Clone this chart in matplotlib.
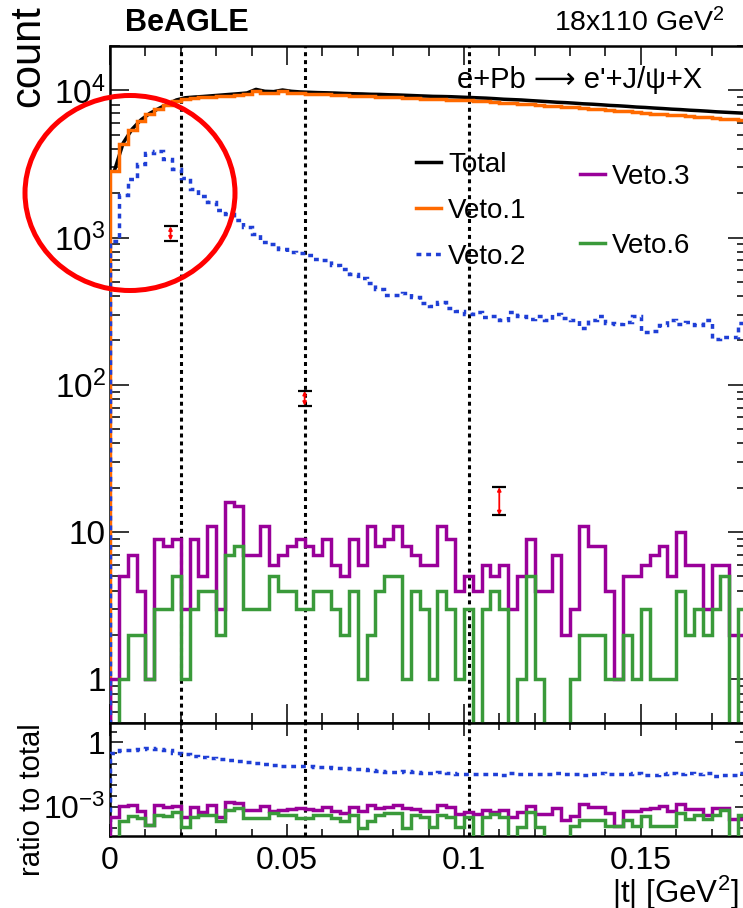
import numpy as np
import matplotlib
matplotlib.use("Agg")
import matplotlib.pyplot as plt
from matplotlib.patches import Ellipse
from matplotlib.ticker import FixedLocator, FixedFormatter, NullFormatter, MultipleLocator

plt.rcParams["font.family"] = ["Liberation Sans", "DejaVu Sans"]
plt.rcParams["mathtext.fontset"] = "custom"
plt.rcParams["mathtext.rm"] = "Liberation Sans"
plt.rcParams["mathtext.it"] = "Liberation Sans:italic"
plt.rcParams["mathtext.bf"] = "Liberation Sans:bold"

# |t| histogram, 72 bins of 0.0025 GeV^2 between 0 and 0.18
t_min, t_max = 0.0, 0.18

total = [2850, 4400, 5450, 6300, 6980, 7520, 8050, 8600, 8900, 9000,
         9080, 9180, 9280, 9380, 9480, 9600, 10150, 9850, 9800, 10050,
         9850, 9750, 9700, 9650, 9620, 9580, 9520, 9480, 9450, 9400,
         9380, 9330, 9300, 9250, 9200, 9150, 9100, 9080, 9050, 9000,
         8950, 8900, 8850, 8780, 8700, 8650, 8600, 8520, 8450, 8380,
         8300, 8250, 8180, 8100, 8050, 7980, 7900, 7850, 7780, 7700,
         7650, 7580, 7520, 7450, 7400, 7330, 7280, 7220, 7150, 7100,
         7050, 7000]

veto1 = [2820, 4350, 5380, 6220, 6900, 7430, 7940, 8500, 8780, 8870,
         8940, 9030, 9120, 9210, 9300, 9420, 9960, 9660, 9600, 9840,
         9640, 9530, 9470, 9410, 9370, 9320, 9250, 9200, 9160, 9100,
         9070, 9010, 8970, 8910, 8850, 8790, 8730, 8700, 8660, 8600,
         8540, 8480, 8420, 8340, 8250, 8190, 8130, 8040, 7960, 7880,
         7790, 7730, 7650, 7560, 7500, 7420, 7330, 7270, 7190, 7100,
         7040, 6960, 6890, 6810, 6750, 6670, 6610, 6540, 6460, 6400,
         6350, 6290]

veto2 = [955, 1950, 2500, 3150, 3750, 3900, 3400, 2900, 2520, 2150,
         1920, 1740, 1530, 1450, 1320, 1180, 1060, 940, 900, 830,
         800, 790, 760, 720, 700, 650, 610, 570, 530, 490,
         450, 407, 407, 418, 397, 361, 343, 364, 334, 318,
         302, 311, 290, 294, 276, 311, 294, 282, 294, 274,
         302, 285, 277, 243, 274, 294, 261, 257, 265, 294,
         230, 232, 255, 277, 258, 265, 255, 274, 205, 210,
         210, 263]

veto3 = [1, 5, 7, 4, 1, 9, 8, 9, 3, 9,
         5, 11, 3, 16, 15, 7, 7, 11, 6, 7,
         8, 9, 8, 7, 9, 6, 5, 9, 6, 11,
         8, 9, 11, 8, 7, 6, 6, 11, 9, 4,
         5, 4, 6, 5, 6, 3, 5, 9, 4, 4,
         7, 2, 3, 11, 8, 8, 4, 1, 5, 5,
         6, 7, 8, 5, 10, 6, 6, 3, 6, 6,
         2, 2]

veto6 = [0, 1, 2, 2, 1, 3, 3, 5, 1, 3,
         4, 4, 2, 7, 8, 3, 3, 3, 5, 4,
         4, 3, 3, 4, 4, 3, 2, 4, 1, 2,
         4, 5, 5, 1, 4, 3, 1, 4, 3, 1,
         3, 0, 3, 4, 3, 0, 1, 5, 1, 0,
         0, 0, 1, 2, 2, 2, 1, 1, 2, 1,
         3, 1, 1, 1, 4, 2, 3, 2, 3, 5,
         0, 3]

# single points with error bars
pts_t = [0.0171, 0.055, 0.11]
pts_lo = [955, 72, 13]
pts_hi = [1193, 91, 20.2]

# dotted reference lines
vline_t = [0.02, 0.055, 0.1015]

c_orange = "#ff6a00"
c_blue = "#1f3fd6"
c_purple = "#990099"
c_green = "#3a9a3a"

W, H = 743, 908


def fx(px):
    return px / W


def fy(py):
    return 1 - py / H


fig = plt.figure(figsize=(W / 100, H / 100), dpi=100)
ax = fig.add_axes([fx(110), fy(723), fx(747) - fx(110), fy(46) - fy(723)])
axr = fig.add_axes([fx(110), fy(836), fx(747) - fx(110), fy(723) - fy(836)])

edges = np.linspace(t_min, t_max, len(total) + 1)
centers = 0.5 * (edges[:-1] + edges[1:])
lw = 2.5

# main panel
h_tot, = ax.plot(centers, total, color="black", lw=lw, label="Total", zorder=2)
h_v1 = ax.stairs(veto1, edges, baseline=0, color=c_orange, lw=lw, label="Veto.1", zorder=3)
h_v2 = ax.stairs(veto2, edges, baseline=0, color=c_blue, lw=lw, ls=(0, (1.4, 1.4)),
                 label="Veto.2", zorder=4)
h_v3 = ax.stairs(veto3, edges, baseline=0, color=c_purple, lw=lw, label="Veto.3", zorder=3)
h_v6 = ax.stairs(veto6, edges, baseline=0, color=c_green, lw=lw, label="Veto.6", zorder=3)

for t, lo, hi in zip(pts_t, pts_lo, pts_hi):
    ax.annotate("", xy=(t, hi), xytext=(t, lo),
                arrowprops=dict(arrowstyle="<|-|>", color="red", lw=1.3,
                                mutation_scale=5, shrinkA=0, shrinkB=0), zorder=5)
ax.plot(pts_t, pts_lo, ls="none", marker="_", ms=10, mew=1.6, color="black", zorder=6)
ax.plot(pts_t, pts_hi, ls="none", marker="_", ms=10, mew=1.6, color="black", zorder=6)

# ratio panel
tot = np.array(total, dtype=float)
axr.stairs(np.array(veto2) / tot, edges, baseline=0, color=c_blue, lw=lw,
           ls=(0, (1.4, 1.4)), zorder=3)
axr.stairs(np.array(veto3) / tot, edges, baseline=0, color=c_purple, lw=lw, zorder=3)
axr.stairs(np.array(veto6) / tot, edges, baseline=0, color=c_green, lw=lw, zorder=4)

for a in (ax, axr):
    for t in vline_t:
        a.axvline(t, color="black", lw=2.2, ls=(0, (1.3, 1.3)), zorder=1)
    a.set_xlim(t_min, t_max)
    a.set_yscale("log")
    a.xaxis.set_major_locator(FixedLocator([0, 0.05, 0.1, 0.15]))
    a.xaxis.set_minor_locator(MultipleLocator(0.01))
    for s in a.spines.values():
        s.set_linewidth(1.8)
    a.tick_params(which="both", direction="in", top=True, right=True, width=1.1)

ax.set_ylim(0.505, 2e4)
ax.yaxis.set_major_locator(FixedLocator([1, 10, 100, 1000, 10000]))
ax.yaxis.set_major_formatter(FixedFormatter(["1", "10", "$10^{2}$", "$10^{3}$", "$10^{4}$"]))
ax.yaxis.set_minor_locator(FixedLocator([m * 10.0 ** k for k in range(0, 4) for m in range(2, 10)]
                                        + [0.6, 0.7, 0.8, 0.9, 2e4]))
ax.yaxis.set_minor_formatter(NullFormatter())
ax.tick_params(which="major", length=14, labelsize=24, pad=3)
ax.tick_params(which="minor", length=7)
ax.tick_params(axis="x", labelbottom=False)

axr.set_ylim(4.4e-5, 8)
axr.yaxis.set_major_locator(FixedLocator([1e-3, 1]))
axr.yaxis.set_major_formatter(FixedFormatter(["$10^{-3}$", "1"]))
axr.yaxis.set_minor_locator(FixedLocator([10 ** (k / 2) for k in range(-9, 2) if k % 6 != 0]))
axr.yaxis.set_minor_formatter(NullFormatter())
axr.xaxis.set_major_formatter(FixedFormatter(["0", "0.05", "0.1", "0.15"]))
axr.tick_params(which="major", length=9, labelsize=23, pad=3)
axr.tick_params(axis="x", which="major", pad=7)
axr.tick_params(which="minor", length=5)

# legends (two columns)
leg_kw = dict(frameon=False, fontsize=20, handlelength=0.9, handletextpad=0.25,
              borderpad=0, borderaxespad=0, loc="upper left", bbox_transform=fig.transFigure)
leg1 = ax.legend(handles=[h_tot, h_v1, h_v2], labelspacing=0.72,
                 bbox_to_anchor=(fx(416), fy(152)), **leg_kw)
ax.add_artist(leg1)
ax.legend(handles=[h_v3, h_v6], labelspacing=1.55,
          bbox_to_anchor=(fx(580), fy(164)), **leg_kw)

# texts
ax.text(fx(457), fy(80), "e+Pb \u27f6 e'+J/\u03c8+X", transform=fig.transFigure,
        fontsize=21, va="center", ha="left")
fig.text(fx(125), fy(31), "BeAGLE", fontsize=22, fontweight="bold", va="baseline")
fig.text(fx(725), fy(31), "18x110 GeV$^{2}$", fontsize=20.5, va="baseline", ha="right")
fig.text(fx(28), fy(5), "count", rotation=90, fontsize=30, ha="center", va="top")
fig.text(fx(32), fy(800), "ratio to total", rotation=90, fontsize=21, ha="center", va="center")
fig.text(fx(612), fy(903), "|t| [GeV$^{2}$]", fontsize=22.5, ha="left", va="baseline")

# red circle highlighting the low-|t| region
fig.add_artist(Ellipse((fx(130), fy(193)), 210 / W, 195 / H, transform=fig.transFigure,
                       fill=False, ec="red", lw=3.6))

fig.savefig("out.png", dpi=100)
